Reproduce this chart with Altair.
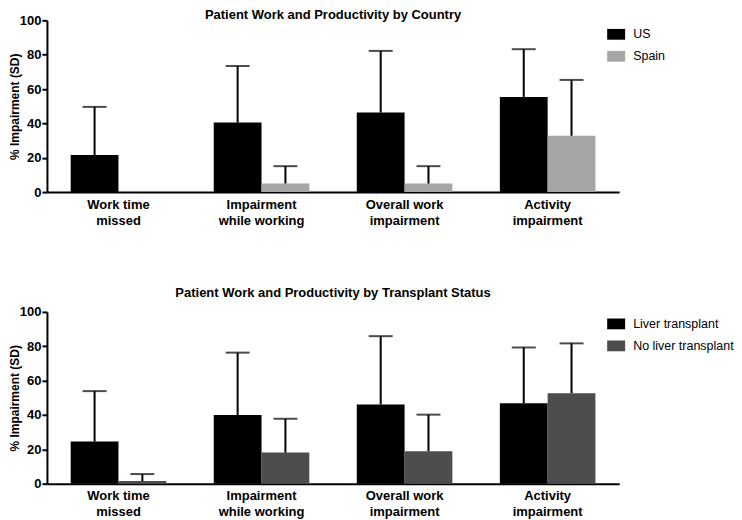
import altair as alt
import pandas as pd

categories = ["Work time|missed", "Impairment|while working", "Overall work|impairment", "Activity|impairment"]

country_groups = ["US", "Spain"]
country_colors = ["#000000", "#a6a6a6"]
us_mean = [21.6, 40.5, 46.3, 55.4]
us_sd = [28.0, 32.9, 35.9, 27.8]
spain_mean = [0.0, 5.0, 5.0, 32.8]
spain_sd = [None, 10.1, 10.1, 32.5]

transplant_groups = ["Liver transplant", "No liver transplant"]
transplant_colors = ["#000000", "#4d4d4d"]
liver_mean = [24.5, 40.0, 46.1, 46.9]
liver_sd = [29.4, 36.3, 39.8, 32.4]
noliver_mean = [1.5, 18.1, 18.9, 52.7]
noliver_sd = [4.1, 19.7, 21.3, 29.0]

y_ticks = [0, 20, 40, 60, 80, 100]

FONT = "Liberation Sans, Arial, Helvetica, sans-serif"


def make_df(groups, means, sds):
    rows = []
    for g, m_list, s_list in zip(groups, means, sds):
        for c, m, s in zip(categories, m_list, s_list):
            rows.append({
                "category": c,
                "group": g,
                "mean": m,
                "upper": (m + s) if s is not None else None,
            })
    return pd.DataFrame(rows)


def panel(df, groups, colors, title, title_offset, legend_y):
    xscale = alt.Scale(type="band", domain=categories, paddingInner=0.332, paddingOuter=0.166)
    xoscale = alt.Scale(type="band", domain=groups, paddingInner=0, paddingOuter=0)
    yscale = alt.Scale(domain=[0, 100], nice=False)
    x = alt.X(
        "category:N", sort=categories, title=None, scale=xscale,
        axis=alt.Axis(
            labelExpr="split(datum.label, '|')", labelAngle=0, ticks=False,
            domainColor="black", domainWidth=2, labelFont=FONT,
            labelFontWeight="bold", labelFontSize=13, labelColor="black",
            labelPadding=6, labelLineHeight=16, labelBaseline="top",
        ),
    )
    xo = alt.XOffset("group:N", sort=groups, scale=xoscale)
    y_axis = alt.Axis(
        values=y_ticks, tickCount=len(y_ticks) + 4, grid=False,
        domainColor="black", domainWidth=2,
        tickColor="black", tickWidth=2, tickSize=5, labelPadding=1,
        labelOverlap=False,
        labelFont=FONT, labelFontSize=13, labelFontWeight="bold",
        labelColor="black", titleFont=FONT, titleFontSize=12,
        titleFontWeight="bold", titleColor="black", titlePadding=-2,
    )
    y = alt.Y("mean:Q", scale=yscale, title="% Impairment (SD)", axis=y_axis)
    color = alt.Color(
        "group:N", sort=groups,
        scale=alt.Scale(domain=groups, range=colors),
        legend=alt.Legend(
            title=None, orient="none", legendX=561, legendY=legend_y,
            symbolType="M-1,-0.6H1V0.6H-1Z", symbolSize=324,
            symbolStrokeWidth=0, symbolOpacity=1, labelFont=FONT,
            labelFontSize=12.5, labelColor="black", labelOffset=8,
            rowPadding=6, padding=0,
        ),
    )
    base = alt.Chart(df)
    bars = base.mark_bar().encode(x=x, xOffset=xo, y=y, color=color)
    err = base.transform_filter("datum.upper != null")
    rule = err.mark_rule(color="black", strokeWidth=2).encode(
        x=alt.X("category:N", scale=xscale), xOffset=xo,
        y=alt.Y("mean:Q", scale=yscale, title="% Impairment (SD)", axis=y_axis),
        y2="upper:Q")
    cap = err.mark_tick(color="black", thickness=2, size=24, orient="horizontal").encode(
        x=alt.X("category:N", scale=xscale), xOffset=xo,
        y=alt.Y("upper:Q", scale=yscale, title="% Impairment (SD)", axis=y_axis))
    return alt.layer(bars, rule, cap).properties(
        width=573, height=172,
        title=alt.TitleParams(
            text=title, font=FONT, fontSize=13, fontWeight="bold",
            color="black", anchor="middle", frame="group", offset=title_offset,
        ),
    )


top = panel(make_df(country_groups, [us_mean, spain_mean], [us_sd, spain_sd]),
            country_groups, country_colors,
            "Patient Work and Productivity by Country", -8, 5)
bottom = panel(make_df(transplant_groups, [liver_mean, noliver_mean], [liver_sd, noliver_sd]),
               transplant_groups, transplant_colors,
               "Patient Work and Productivity by Transplant Status", 6, 3)

chart = alt.vconcat(top, bottom, spacing=60).resolve_scale(
    x="independent", y="independent", xOffset="independent", color="independent"
).properties(
    padding={"left": 0, "top": 1, "right": 0, "bottom": 0}, background="white"
).configure_view(stroke=None)

chart.save("out.html", embed_options={"renderer": "svg", "actions": False})
